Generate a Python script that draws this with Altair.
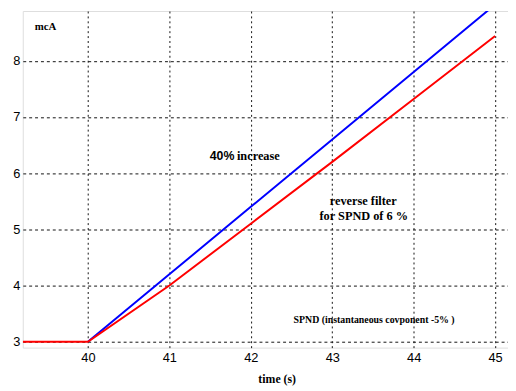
import altair as alt
import pandas as pd

# data
red_t = [39.2, 40, 41, 42, 43, 44, 45]
red_v = [3.0, 3.0, 4.0, 5.1, 6.2, 7.32, 8.44]
blue_t = [40, 41, 42, 43, 44, 45]
blue_v = [3.0, 4.2, 5.4, 6.6, 7.8, 9.0]
x_ticks = [40, 41, 42, 43, 44, 45]
y_ticks = [3, 4, 5, 6, 7, 8]

ann_text = ["mcA", "40%", "increase", "reverse filter", "for SPND of 6 %",
            "SPND (instantaneous covponent -5% )"]
ann_x = [39.479, 41.496, 41.83, 43.381, 43.387, 43.514]
ann_y = [8.604, 6.31, 6.31, 5.51, 5.23, 3.39]

XD = [39.2, 45.158]
YD = [2.895, 8.885]

red = pd.DataFrame({"t": red_t, "v": red_v})
blue = pd.DataFrame({"t": blue_t, "v": blue_v})

xscale = alt.Scale(domain=XD, nice=False, zero=False)
yscale = alt.Scale(domain=YD, nice=False, zero=False)

xaxis = alt.Axis(values=x_ticks, format="d", title="time (s)", ticks=False, domain=False,
                 labelFont="Liberation Sans", labelFontSize=13, labelColor="#000",
                 labelPadding=4, gridColor="#111", gridDash=[2, 3], gridOpacity=1,
                 titleFont="Liberation Serif", titleFontWeight="bold", titleFontSize=12,
                 titleColor="#000", titleX=258, titleY=31, titleBaseline="middle",
                 titleAnchor="start", titleAlign="center")
yaxis = alt.Axis(values=y_ticks, format="d", title=None, ticks=False, domain=False,
                 labelFont="Liberation Sans", labelFontSize=13, labelColor="#000",
                 labelPadding=3, gridColor="#111", gridDash=[3, 3], gridOpacity=1)

base_b = alt.Chart(blue).mark_line(color="#0000ff", strokeWidth=2, clip=True).encode(
    x=alt.X("t:Q", scale=xscale, axis=xaxis),
    y=alt.Y("v:Q", scale=yscale, axis=yaxis),
)
base_r = alt.Chart(red).mark_line(color="#ff0000", strokeWidth=2, clip=True).encode(
    x=alt.X("t:Q", scale=xscale),
    y=alt.Y("v:Q", scale=yscale),
)

def txt(i, size, font="Liberation Serif", align="center"):
    return alt.Chart(pd.DataFrame({"x": [ann_x[i]], "y": [ann_y[i]], "s": [ann_text[i]]})).mark_text(
        font=font, fontSize=size, fontWeight="bold", color="#000", align=align, baseline="middle"
    ).encode(x=alt.X("x:Q", scale=xscale), y=alt.Y("y:Q", scale=yscale), text="s:N")

texts = [
    txt(0, 11),
    txt(1, 12.5, font="Liberation Sans", align="left"),
    txt(2, 12.5, align="left"),
    txt(3, 12.5),
    txt(4, 12.5),
    txt(5, 10),
]

chart = alt.layer(base_b, base_r, *texts).properties(
    width=493, height=342,
    autosize=alt.AutoSizeParams(type="none"),
    padding={"left": 15, "top": 0, "right": 0, "bottom": 40},
).configure_view(stroke="#808080", strokeWidth=1.5).configure(background="white")

chart.save("out.html", embed_options={"renderer": "svg", "actions": False})
